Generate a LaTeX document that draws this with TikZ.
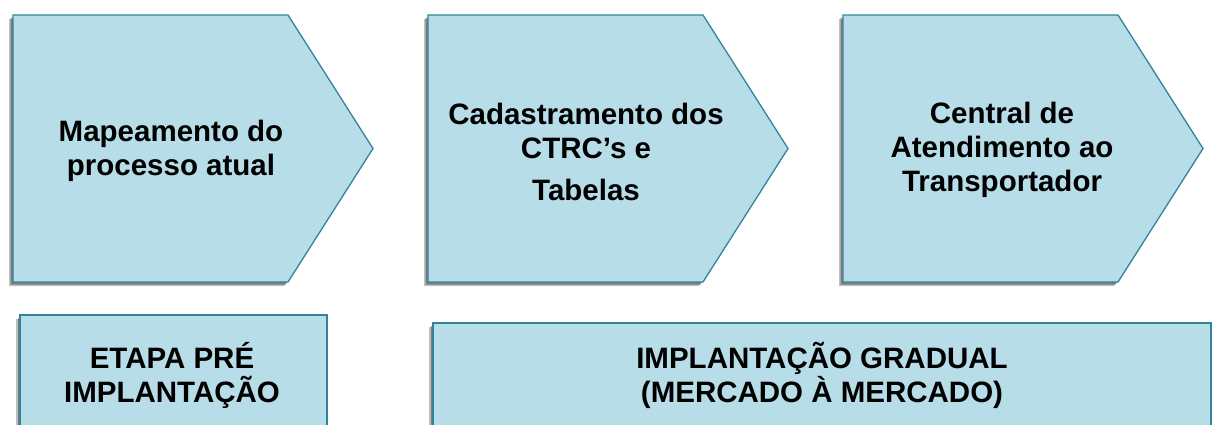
\documentclass[tikz,border=0pt]{standalone}
\usepackage{fontspec}
\setmainfont{Liberation Sans}
\usetikzlibrary{shadows}
\definecolor{boxfill}{HTML}{B7DDE8}
\definecolor{boxline}{HTML}{31849B}
\tikzset{
  shape box/.style={fill=boxfill, draw=boxline, line width=1.3pt, line join=miter,
    drop shadow={shadow xshift=-4pt, shadow yshift=-4pt, opacity=0.25, fill=black},
    drop shadow={shadow xshift=-2.5pt, shadow yshift=-2.5pt, opacity=0.35, fill=black}},
  label text/.style={align=center, font=\bfseries\fontsize{29.5}{34}\selectfont, inner sep=0pt, text=black},
}
\begin{document}
\begin{tikzpicture}[x=1pt, y=-1pt]
\clip (0,0) rectangle (1214,424);
\fill[white] (0,0) rectangle (1214,424);
% chevrons
\path[shape box] (13,15) -- (288,15) -- (373,148.5) -- (288,282) -- (13,282) -- cycle;
\path[shape box] (428,15) -- (703,15) -- (788,148.5) -- (703,282) -- (428,282) -- cycle;
\path[shape box] (843,15) -- (1118,15) -- (1203,148.5) -- (1118,282) -- (843,282) -- cycle;
% bottom boxes
\path[shape box] (20,315) rectangle (327,440);
\path[shape box] (433,323) rectangle (1211,440);
% texts
\node[label text] (t1) at (171,151) {Mapeamento do\\processo atual};
\node[label text] (t2) at (586,152) {Cadastramento dos\\CTRC’s e\\[8pt]Tabelas};
\node[label text] (t3) at (1002,150) {Central de\\Atendimento ao\\Transportador};
\node[label text] (b1) at (172,375) {ETAPA PRÉ\\IMPLANTAÇÃO};
\node[label text] (b2) at (822,375) {IMPLANTAÇÃO GRADUAL\\(MERCADO À MERCADO)};
\end{tikzpicture}
\end{document}
